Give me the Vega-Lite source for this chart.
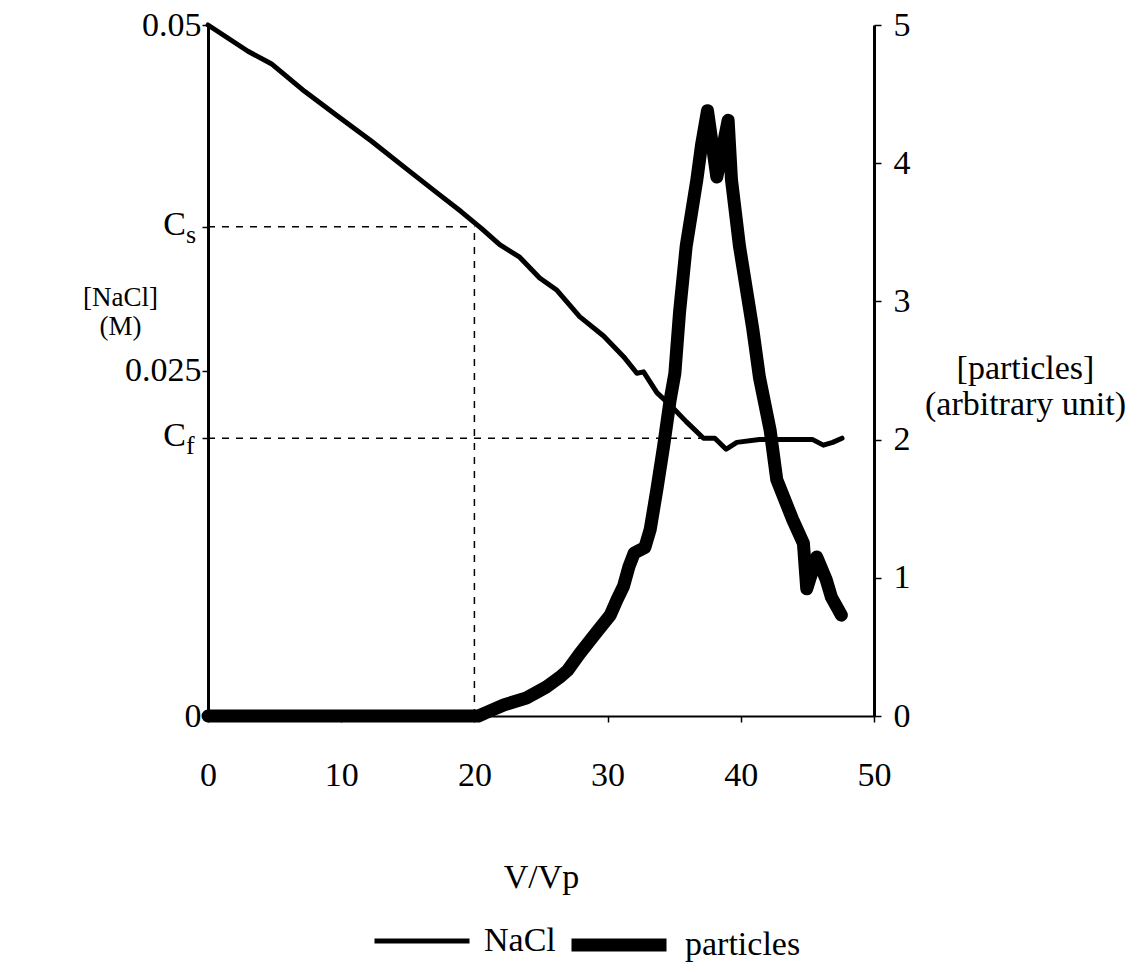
{
  "$schema": "https://vega.github.io/schema/vega-lite/v6.json",
  "width": 666,
  "height": 691,
  "autosize": {"type": "none"},
  "padding": {"left": 208, "top": 25, "right": 274, "bottom": 256},
  "background": "white",
  "config": {
    "view": {"stroke": null},
    "font": "Liberation Serif",
    "axis": {
      "labelFont": "Liberation Serif",
      "titleFont": "Liberation Serif",
      "labelColor": "black",
      "titleColor": "black",
      "domainColor": "black",
      "tickColor": "black",
      "grid": false,
      "labelFontSize": 34,
      "titleFontSize": 34,
      "titleFontWeight": "normal"
    },
    "legend": {
      "orient": "none",
      "legendX": 164,
      "legendY": 866,
      "direction": "horizontal",
      "gridAlign": "none",
      "symbolType": "stroke",
      "symbolSize": 9025,
      "symbolStrokeColor": "black",
      "labelFont": "Liberation Serif",
      "labelFontSize": 34,
      "labelColor": "black",
      "labelOffset": 12,
      "columnPadding": -11
    }
  },
  "datasets": {
    "nacl": [
      {"V": 0, "NaCl": 0.05, "series": "NaCl"},
      {"V": 3.0, "NaCl": 0.0481, "series": "NaCl"},
      {"V": 4.75, "NaCl": 0.0472, "series": "NaCl"},
      {"V": 7.25, "NaCl": 0.0452, "series": "NaCl"},
      {"V": 9.75, "NaCl": 0.0434, "series": "NaCl"},
      {"V": 12.26, "NaCl": 0.0416, "series": "NaCl"},
      {"V": 14.76, "NaCl": 0.0397, "series": "NaCl"},
      {"V": 17.27, "NaCl": 0.0378, "series": "NaCl"},
      {"V": 19.0, "NaCl": 0.0365, "series": "NaCl"},
      {"V": 20.5, "NaCl": 0.0353, "series": "NaCl"},
      {"V": 21.9, "NaCl": 0.0341, "series": "NaCl"},
      {"V": 23.4, "NaCl": 0.0332, "series": "NaCl"},
      {"V": 24.9, "NaCl": 0.0317, "series": "NaCl"},
      {"V": 26.2, "NaCl": 0.0308, "series": "NaCl"},
      {"V": 27.9, "NaCl": 0.0289, "series": "NaCl"},
      {"V": 29.7, "NaCl": 0.0275, "series": "NaCl"},
      {"V": 31.2, "NaCl": 0.026, "series": "NaCl"},
      {"V": 32.2, "NaCl": 0.0248, "series": "NaCl"},
      {"V": 32.7, "NaCl": 0.0249, "series": "NaCl"},
      {"V": 33.7, "NaCl": 0.0234, "series": "NaCl"},
      {"V": 34.7, "NaCl": 0.0225, "series": "NaCl"},
      {"V": 35.9, "NaCl": 0.0213, "series": "NaCl"},
      {"V": 37.2, "NaCl": 0.0201, "series": "NaCl"},
      {"V": 38.05, "NaCl": 0.0201, "series": "NaCl"},
      {"V": 38.9, "NaCl": 0.0193, "series": "NaCl"},
      {"V": 39.7, "NaCl": 0.0198, "series": "NaCl"},
      {"V": 41.4, "NaCl": 0.02, "series": "NaCl"},
      {"V": 43.4, "NaCl": 0.02, "series": "NaCl"},
      {"V": 45.4, "NaCl": 0.02, "series": "NaCl"},
      {"V": 46.2, "NaCl": 0.0196, "series": "NaCl"},
      {"V": 46.9, "NaCl": 0.0198, "series": "NaCl"},
      {"V": 47.6, "NaCl": 0.0201, "series": "NaCl"}
    ],
    "particles": [
      {"V": 0, "p": 0, "series": "particles"},
      {"V": 20.3, "p": 0, "series": "particles"},
      {"V": 21.0, "p": 0.03, "series": "particles"},
      {"V": 22.2, "p": 0.08, "series": "particles"},
      {"V": 23.9, "p": 0.13, "series": "particles"},
      {"V": 25.4, "p": 0.21, "series": "particles"},
      {"V": 26.4, "p": 0.28, "series": "particles"},
      {"V": 27.0, "p": 0.33, "series": "particles"},
      {"V": 27.9, "p": 0.45, "series": "particles"},
      {"V": 29.2, "p": 0.61, "series": "particles"},
      {"V": 30.2, "p": 0.73, "series": "particles"},
      {"V": 30.7, "p": 0.84, "series": "particles"},
      {"V": 31.2, "p": 0.94, "series": "particles"},
      {"V": 31.6, "p": 1.08, "series": "particles"},
      {"V": 32.0, "p": 1.18, "series": "particles"},
      {"V": 32.8, "p": 1.22, "series": "particles"},
      {"V": 33.2, "p": 1.35, "series": "particles"},
      {"V": 33.7, "p": 1.64, "series": "particles"},
      {"V": 34.2, "p": 1.95, "series": "particles"},
      {"V": 34.7, "p": 2.29, "series": "particles"},
      {"V": 35.05, "p": 2.48, "series": "particles"},
      {"V": 35.4, "p": 2.92, "series": "particles"},
      {"V": 35.9, "p": 3.4, "series": "particles"},
      {"V": 36.7, "p": 3.88, "series": "particles"},
      {"V": 37.05, "p": 4.13, "series": "particles"},
      {"V": 37.5, "p": 4.38, "series": "particles"},
      {"V": 38.2, "p": 3.9, "series": "particles"},
      {"V": 39.05, "p": 4.31, "series": "particles"},
      {"V": 39.3, "p": 3.88, "series": "particles"},
      {"V": 39.9, "p": 3.4, "series": "particles"},
      {"V": 40.9, "p": 2.8, "series": "particles"},
      {"V": 41.4, "p": 2.45, "series": "particles"},
      {"V": 42.2, "p": 2.07, "series": "particles"},
      {"V": 42.7, "p": 1.71, "series": "particles"},
      {"V": 43.9, "p": 1.42, "series": "particles"},
      {"V": 44.7, "p": 1.25, "series": "particles"},
      {"V": 44.95, "p": 0.92, "series": "particles"},
      {"V": 45.7, "p": 1.15, "series": "particles"},
      {"V": 46.4, "p": 0.99, "series": "particles"},
      {"V": 46.8, "p": 0.86, "series": "particles"},
      {"V": 47.55, "p": 0.73, "series": "particles"}
    ],
    "guides": [
      {"x1": 0, "x2": 20, "y1": 0.0354, "y2": 0.0354},
      {"x1": 20, "x2": 20, "y1": 0, "y2": 0.0354},
      {"x1": 0, "x2": 37, "y1": 0.0201, "y2": 0.0201}
    ],
    "subs": [
      {"V": 0, "c": 0.0354, "main": "C", "sub": "s"},
      {"V": 0, "c": 0.0201, "main": "C", "sub": "f"}
    ]
  },
  "layer": [
    {
      "data": {"name": "nacl"},
      "mark": {"type": "line", "color": "black", "strokeCap": "round", "strokeJoin": "round"},
      "encoding": {
        "x": {
          "field": "V", "type": "quantitative",
          "scale": {"domain": [0, 50]},
          "title": "V/Vp",
          "axis": {
            "values": [0, 10, 20, 30, 40, 50],
            "title": "V/Vp",
            "labelFlush": false,
            "domainWidth": 2,
            "tickSize": 6,
            "tickWidth": 1.5,
            "labelPadding": 36,
            "titleY": 161,
            "titleBaseline": "middle"
          }
        },
        "y": {
          "field": "NaCl", "type": "quantitative",
          "scale": {"domain": [0, 0.05]},
          "axis": {
            "orient": "left",
            "values": [0, 0.0201, 0.025, 0.0354, 0.05],
            "labelExpr": "datum.value > 0.04 ? '0.05' : (datum.value > 0.03 ? '' : (datum.value > 0.022 ? '0.025' : (datum.value > 0.01 ? '' : '0')))",
            "title": ["[NaCl]", "(M)"],
            "domainWidth": 3,
            "tickSize": 6,
            "tickWidth": 1.5,
            "labelPadding": 1,
            "titleAngle": 0,
            "titleAlign": "center",
            "titleBaseline": "top",
            "titleX": -88,
            "titleY": 259,
            "titleFontSize": 27,
            "titleLineHeight": 29
          }
        },
        "strokeWidth": {
          "field": "series", "type": "ordinal",
          "scale": {"domain": ["NaCl", "particles"], "range": [5, 13]},
          "legend": {"title": null}
        }
      }
    },
    {
      "data": {"name": "guides"},
      "mark": {"type": "rule", "color": "black", "strokeDash": [7, 7], "strokeWidth": 1.5},
      "encoding": {
        "x": {"field": "x1", "type": "quantitative", "scale": {"domain": [0, 50]}, "title": "V/Vp"},
        "x2": {"field": "x2"},
        "y": {"field": "y1", "type": "quantitative", "scale": {"domain": [0, 0.05]}, "axis": null},
        "y2": {"field": "y2"}
      }
    },
    {
      "data": {"name": "subs"},
      "mark": {"type": "text", "align": "right", "baseline": "middle", "dx": -22, "dy": -2, "fontSize": 34, "color": "black", "font": "Liberation Serif"},
      "encoding": {
        "x": {"field": "V", "type": "quantitative", "scale": {"domain": [0, 50]}, "title": "V/Vp"},
        "y": {"field": "c", "type": "quantitative", "scale": {"domain": [0, 0.05]}, "axis": null},
        "text": {"field": "main"}
      }
    },
    {
      "data": {"name": "subs"},
      "mark": {"type": "text", "align": "left", "baseline": "middle", "dx": -22, "dy": 8, "fontSize": 26, "color": "black", "font": "Liberation Serif"},
      "encoding": {
        "x": {"field": "V", "type": "quantitative", "scale": {"domain": [0, 50]}, "title": "V/Vp"},
        "y": {"field": "c", "type": "quantitative", "scale": {"domain": [0, 0.05]}, "axis": null},
        "text": {"field": "sub"}
      }
    },
    {
      "data": {"name": "particles"},
      "mark": {"type": "line", "color": "black", "strokeCap": "round", "strokeJoin": "round"},
      "encoding": {
        "x": {"field": "V", "type": "quantitative", "scale": {"domain": [0, 50]}, "title": "V/Vp"},
        "y": {
          "field": "p", "type": "quantitative",
          "scale": {"domain": [0, 5]},
          "axis": {
            "orient": "right",
            "values": [0, 1, 2, 3, 4, 5],
            "title": ["[particles]", "(arbitrary unit)"],
            "domainWidth": 3,
            "tickSize": 7,
            "tickWidth": 1.5,
            "labelPadding": 12,
            "titleAngle": 0,
            "titleAlign": "center",
            "titleBaseline": "top",
            "titleX": 151,
            "titleY": 326,
            "titleFontSize": 34,
            "titleLineHeight": 36
          }
        },
        "strokeWidth": {"field": "series", "type": "ordinal"}
      }
    }
  ],
  "resolve": {"scale": {"y": "independent"}}
}
